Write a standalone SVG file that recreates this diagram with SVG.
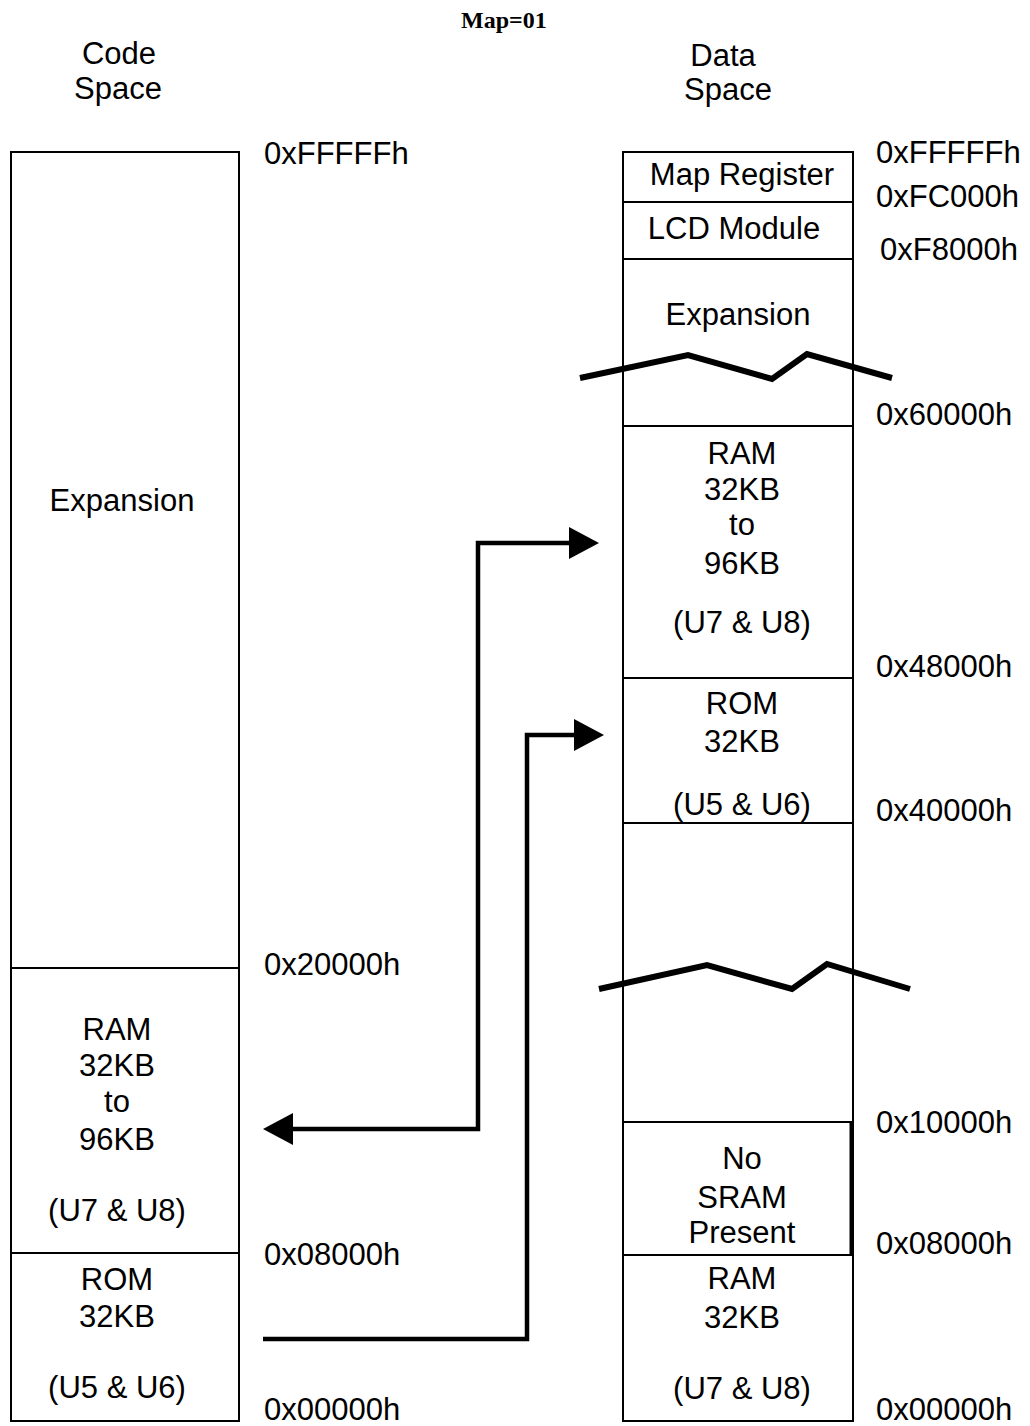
<svg xmlns="http://www.w3.org/2000/svg" width="1030" height="1426" viewBox="0 0 1030 1426">
<style>
  text { font-family: "Liberation Sans", Arial, sans-serif; font-size: 31px; fill: #000; }
  .c { text-anchor: middle; }
  .title { font-family: "Liberation Serif", "Times New Roman", serif; font-weight: bold; font-size: 24px; }
  .box { fill: #fff; stroke: #000; stroke-width: 2; }
  .div { stroke: #000; stroke-width: 2; fill: none; }
  .conn { fill: none; stroke: #000; stroke-width: 4.5; }
  .zig { fill: none; stroke: #000; stroke-width: 6; stroke-linejoin: miter; }
</style>
<defs>
  <marker id="ah" viewBox="0 0 30 32" refX="0" refY="16" markerWidth="30" markerHeight="32" markerUnits="userSpaceOnUse" orient="auto-start-reverse">
    <path d="M0,0 L30,16 L0,32 z" fill="#000"/>
  </marker>
</defs>
<rect width="1030" height="1426" fill="#fff"/>

<text id="title" class="title" x="461" y="28">Map=01</text>

<g id="code-space-heading">
  <text class="c" x="119" y="64">Code</text>
  <text class="c" x="118" y="99">Space</text>
</g>
<g id="data-space-heading">
  <text class="c" x="723" y="66">Data</text>
  <text class="c" x="728" y="100">Space</text>
</g>

<!-- Code space column -->
<g id="code-expansion">
  <rect class="box" x="11" y="152" width="228" height="1269"/>
  <text class="c" x="122" y="511">Expansion</text>
</g>
<g id="code-ram">
  <line class="div" x1="11" y1="968" x2="239" y2="968"/>
  <text class="c" x="117" y="1040">RAM</text>
  <text class="c" x="117" y="1076">32KB</text>
  <text class="c" x="117" y="1112">to</text>
  <text class="c" x="117" y="1150">96KB</text>
  <text class="c" x="117" y="1221">(U7 &amp; U8)</text>
</g>
<g id="code-rom">
  <line class="div" x1="11" y1="1253" x2="239" y2="1253"/>
  <text class="c" x="117" y="1290">ROM</text>
  <text class="c" x="117" y="1327">32KB</text>
  <text class="c" x="117" y="1398">(U5 &amp; U6)</text>
</g>
<g id="code-addresses">
  <text x="264" y="164">0xFFFFFh</text>
  <text x="264" y="975">0x20000h</text>
  <text x="264" y="1265">0x08000h</text>
  <text x="264" y="1420">0x00000h</text>
</g>

<!-- Data space column -->
<g id="data-column">
  <rect class="box" x="623" y="152" width="230" height="1269"/>
</g>
<g id="data-map-register">
  <text class="c" x="742" y="185">Map Register</text>
</g>
<g id="data-lcd">
  <line class="div" x1="623" y1="202" x2="853" y2="202"/>
  <text class="c" x="734" y="239">LCD Module</text>
</g>
<g id="data-expansion">
  <line class="div" x1="623" y1="259" x2="853" y2="259"/>
  <text class="c" x="738" y="325">Expansion</text>
</g>
<g id="data-ram">
  <line class="div" x1="623" y1="426" x2="853" y2="426"/>
  <text class="c" x="742" y="464">RAM</text>
  <text class="c" x="742" y="500">32KB</text>
  <text class="c" x="742" y="535">to</text>
  <text class="c" x="742" y="574">96KB</text>
  <text class="c" x="742" y="633">(U7 &amp; U8)</text>
</g>
<g id="data-rom">
  <line class="div" x1="623" y1="678" x2="853" y2="678"/>
  <text class="c" x="742" y="714">ROM</text>
  <text class="c" x="742" y="752">32KB</text>
  <text class="c" x="742" y="815">(U5 &amp; U6)</text>
</g>
<g id="data-gap">
  <line class="div" x1="623" y1="823" x2="853" y2="823"/>
</g>
<g id="data-no-sram">
  <rect x="623" y="1122" width="228" height="133" fill="none" stroke="#000" stroke-width="2"/>
  <line x1="851" y1="1122" x2="851" y2="1255" stroke="#000" stroke-width="3"/>
  <text class="c" x="742" y="1169">No</text>
  <text class="c" x="742" y="1208">SRAM</text>
  <text class="c" x="742" y="1243">Present</text>
</g>
<g id="data-ram-low">
  <text class="c" x="742" y="1289">RAM</text>
  <text class="c" x="742" y="1328">32KB</text>
  <text class="c" x="742" y="1399">(U7 &amp; U8)</text>
</g>
<g id="data-addresses">
  <text x="876" y="163">0xFFFFFh</text>
  <text x="876" y="207">0xFC000h</text>
  <text x="880" y="260">0xF8000h</text>
  <text x="876" y="425">0x60000h</text>
  <text x="876" y="677">0x48000h</text>
  <text x="876" y="821">0x40000h</text>
  <text x="876" y="1133">0x10000h</text>
  <text x="876" y="1254">0x08000h</text>
  <text x="876" y="1420">0x00000h</text>
</g>

<g id="breaks">
  <polyline class="zig" points="580,378 688,355 772,379 807,354 892,378"/>
  <polyline class="zig" points="599,989 707,965 792,989 827,964 910,989"/>
</g>

<g id="connectors">
  <path class="conn" d="M293,1129 H478 V543 H569" marker-start="url(#ah)" marker-end="url(#ah)"/>
  <path class="conn" d="M263,1339 H527 V735 H574" marker-end="url(#ah)"/>
</g>
</svg>
